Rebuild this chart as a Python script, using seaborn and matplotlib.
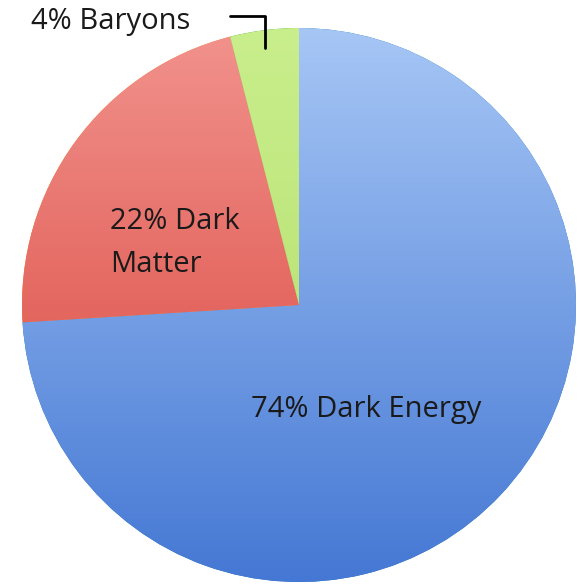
import numpy as np
import matplotlib.pyplot as plt
import seaborn as sns
from matplotlib.colors import LinearSegmentedColormap

sns.set_style("white")
plt.rcParams['font.family'] = ['Open Sans', 'DejaVu Sans']

# Data
labels = ["74% Dark Energy", "22% Dark\nMatter", "4% Baryons"]
shares = [74, 22, 4]
top_colors = ["#a6c6f5", "#f2928d", "#c9ee8c"]
bottom_colors = ["#4578d4", "#d63e35", "#b0dc68"]

fig = plt.figure(figsize=(5.78, 5.87), dpi=100)
ax = fig.add_axes([0, 0, 1, 1])

# pie laid out in pixel units (y up)
cx, cy, r = 299, 282, 277
wedges, _ = ax.pie(shares, startangle=90, counterclock=False,
                   center=(cx, cy), radius=r, frame=True,
                   wedgeprops=dict(linewidth=0))

# vertical gradient fill per wedge
grad = np.linspace(0, 1, 256).reshape(-1, 1)
for w, c_top, c_bot in zip(wedges, top_colors, bottom_colors):
    cmap = LinearSegmentedColormap.from_list("g", [c_bot, c_top])
    im = ax.imshow(grad, cmap=cmap, aspect="auto", origin="lower",
                   extent=[cx - r, cx + r, cy - r, cy + r], zorder=2)
    im.set_clip_path(w)

ax.set_xlim(0, 578)
ax.set_ylim(0, 587)
ax.set_axis_off()

H = 587
fs = 21
ax.text(366, H - 410, labels[0], fontsize=fs, color="#1a1a1a",
        ha="center", va="center", zorder=5)
ax.text(110, H - 243, labels[1], fontsize=fs, color="#1a1a1a",
        ha="left", va="center", linespacing=1.6, zorder=5)
ax.text(31, H - 22, labels[2], fontsize=fs, color="#1a1a1a",
        ha="left", va="center", zorder=5)

# leader line for the small slice
ax.plot([230, 265, 265], [H - 16, H - 16, H - 48], color="black",
        linewidth=2, zorder=6)

fig.savefig("out.png", dpi=100)
